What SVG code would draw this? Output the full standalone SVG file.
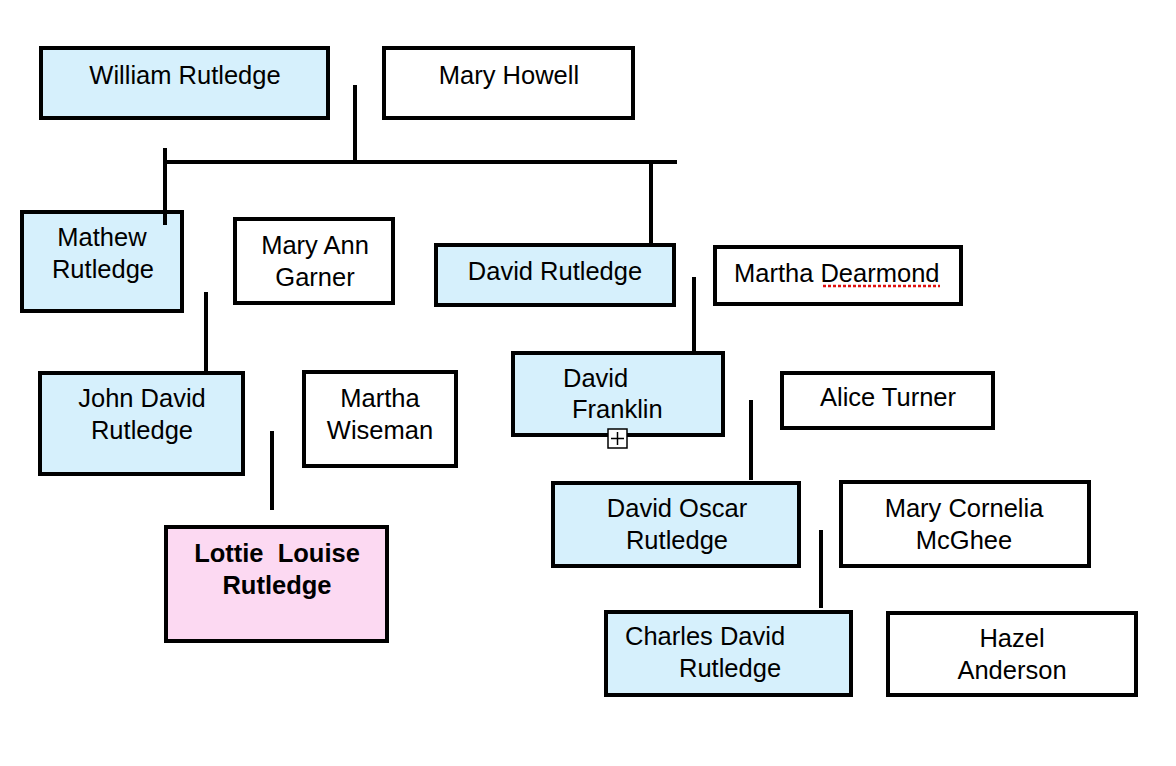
<svg xmlns="http://www.w3.org/2000/svg" width="1176" height="766" viewBox="0 0 1176 766">
<style>
rect.n{stroke:#000;stroke-width:4}
.b{fill:#d6f0fc}
.w{fill:#fff}
.p{fill:#fcd9f2}
text{font-family:"Liberation Sans",Arial,sans-serif;font-size:25.5px;fill:#000}
.c{text-anchor:middle}
.bold{font-weight:bold}
#connectors line{stroke:#000;stroke-width:4}
</style>
<rect width="1176" height="766" fill="#fff"/>
<g id="william"><rect class="n b" x="41" y="48" width="287" height="70"/><text class="c" x="185" y="84">William Rutledge</text></g>
<g id="maryhowell"><rect class="n w" x="384" y="48" width="249" height="70"/><text class="c" x="509" y="84">Mary Howell</text></g>
<g id="mathew"><rect class="n b" x="22" y="212" width="160" height="99"/><text class="c" x="102" y="246">Mathew</text><text class="c" x="103" y="278">Rutledge</text></g>
<g id="maryann"><rect class="n w" x="235" y="219" width="158" height="84"/><text class="c" x="315" y="254">Mary Ann</text><text class="c" x="315" y="286">Garner</text></g>
<g id="davidr"><rect class="n b" x="436" y="245" width="238" height="60"/><text class="c" x="555" y="280">David Rutledge</text></g>
<g id="marthad"><rect class="n w" x="715" y="247" width="246" height="57"/><text x="734" y="282">Martha Dearmond</text><line x1="823" y1="286" x2="940" y2="286" stroke="#e01010" stroke-width="2.5" stroke-dasharray="3 2"/></g>
<g id="davidf"><rect class="n b" x="513" y="353" width="210" height="82"/><text x="563" y="387">David</text><text x="572" y="418">Franklin</text><rect x="608" y="429" width="19" height="19" fill="#fff" stroke="#000" stroke-width="1.5"/><line x1="611" y1="438.5" x2="624" y2="438.5" stroke="#000" stroke-width="1.5"/><line x1="617.5" y1="432" x2="617.5" y2="445" stroke="#000" stroke-width="1.5"/></g>
<g id="alice"><rect class="n w" x="782" y="373" width="211" height="55"/><text class="c" x="888" y="406">Alice Turner</text></g>
<g id="johnd"><rect class="n b" x="40" y="373" width="203" height="101"/><text class="c" x="142" y="407">John David</text><text class="c" x="142" y="439">Rutledge</text></g>
<g id="marthaw"><rect class="n w" x="304" y="372" width="152" height="94"/><text class="c" x="380" y="407">Martha</text><text class="c" x="380" y="439">Wiseman</text></g>
<g id="lottie"><rect class="n p" x="166" y="527" width="221" height="114"/><text class="c bold" x="277" y="562" xml:space="preserve">Lottie  Louise</text><text class="c bold" x="277" y="594">Rutledge</text></g>
<g id="davido"><rect class="n b" x="553" y="483" width="246" height="83"/><text class="c" x="677" y="517">David Oscar</text><text class="c" x="677" y="549">Rutledge</text></g>
<g id="maryc"><rect class="n w" x="841" y="482" width="248" height="84"/><text class="c" x="964" y="517">Mary Cornelia</text><text class="c" x="964" y="549">McGhee</text></g>
<g id="charles"><rect class="n b" x="606" y="612" width="245" height="83"/><text x="625" y="645">Charles David</text><text x="679" y="677">Rutledge</text></g>
<g id="hazel"><rect class="n w" x="888" y="613" width="248" height="82"/><text class="c" x="1012" y="647">Hazel</text><text class="c" x="1012" y="679">Anderson</text></g>
<g id="connectors">
<line x1="355" y1="85" x2="355" y2="164"/>
<line x1="164" y1="162" x2="677" y2="162"/>
<line x1="165" y1="148" x2="165" y2="225"/>
<line x1="651" y1="162" x2="651" y2="243"/>
<line x1="206" y1="292" x2="206" y2="371"/>
<line x1="272" y1="431" x2="272" y2="510"/>
<line x1="694" y1="277" x2="694" y2="355"/>
<line x1="751" y1="400" x2="751" y2="480"/>
<line x1="821" y1="530" x2="821" y2="608"/>
</g>
</svg>
